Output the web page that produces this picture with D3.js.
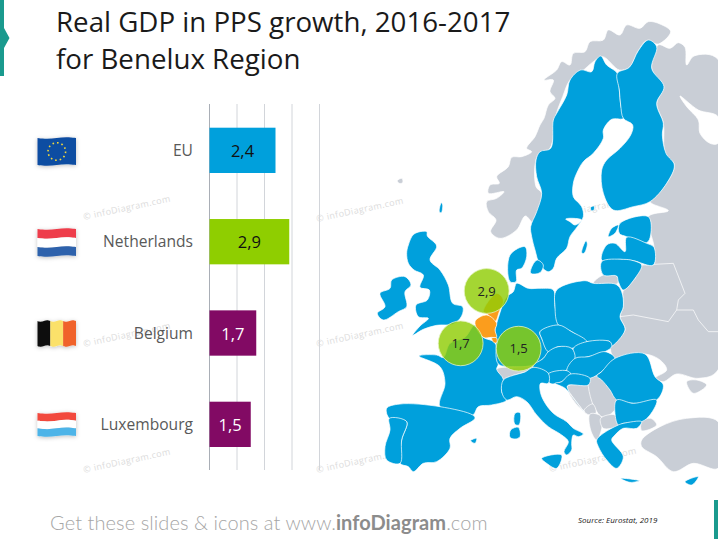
<!DOCTYPE html>
<html>
<head>
<meta charset="utf-8">
<script src="https://cdn.jsdelivr.net/npm/d3@7"></script>
<style>
  html, body { margin: 0; padding: 0; background: #fff; }
  svg { display: block; }
</style>
</head>
<body>
<div id="chart"></div>
<script>
// chart data
const categories = ["EU", "Netherlands", "Belgium", "Luxembourg"];
const growth = [2.4, 2.9, 1.7, 1.5];
const gridTicks = [0, 1, 2, 3, 4];
const bubbleCountries = ["Netherlands", "Belgium", "Luxembourg"];

// map outlines. north* are in one crop frame, south* in another
const northGrey = [
  // norway
  [[480,655],[452,635],[468,600],[445,575],[440,545],[470,535],[492,515],[445,520],[450,495],[478,490],[470,470],[505,440],[515,412],[545,410],[575,395],[560,385],[585,350],[600,315],[612,295],[625,255],[645,235],[630,215],[640,180],[612,180],[650,150],[665,125],[690,135],[700,100],[735,95],[750,65],[790,60],[805,30],[840,45],[860,15],[900,25],[925,5],[960,12],[992,35],[955,72],[920,62],[895,92],[868,142],[838,150],[788,110],[760,125],[725,155],[690,180],[668,230],[648,285],[630,385],[592,410],[588,500],[605,520],[582,610],[556,588],[530,630]],
  // russia, belarus, ukraine
  [[955,75],[990,85],[1015,68],[1035,82],[1040,135],[1062,108],[1134,118],[1134,1050],[1075,1075],[1010,1062],[970,1085],[945,1075],[980,1050],[960,1020],[915,1002],[825,1015],[812,980],[855,930],[840,890],[850,860],[850,810],[885,775],[905,735],[940,735],[942,680],[925,590],[985,572],[930,545],[965,510],[1003,435],[975,400],[970,310],[950,250],[970,200],[935,145]],
  // faroe
  [[172,482],[186,475],[188,488],[178,490]]
];
const northBlue = [
  // sweden
  [[782,108],[800,135],[832,160],[838,210],[842,255],[850,295],[815,298],[790,330],[790,355],[760,400],[730,425],[710,460],[700,490],[700,530],[725,560],[730,590],[712,620],[690,650],[680,685],[650,715],[640,745],[625,755],[600,735],[585,690],[575,650],[572,620],[590,575],[605,520],[590,470],[588,420],[600,395],[632,385],[640,300],[650,280],[680,225],[690,180],[722,150],[755,155],[765,125]],
  // finland
  [[925,60],[950,80],[935,145],[972,200],[950,250],[970,310],[967,345],[978,400],[1003,435],[980,490],[930,545],[880,560],[820,570],[790,520],[785,450],[800,420],[840,385],[872,345],[878,315],[850,295],[842,255],[838,210],[832,160],[868,142],[895,92]],
  // estonia
  [[840,610],[925,590],[932,645],[920,668],[860,650],[838,640]],
  // latvia
  [[785,720],[800,675],[825,670],[855,695],[860,652],[920,670],[942,682],[940,735],[880,722],[840,718]],
  // islands
  [[725,698],[738,662],[742,672],[732,700]],
  [[805,650],[815,625],[835,615],[825,640]],
  [[298,575],[304,548],[308,555],[304,578]],
  [[752,562],[762,558],[762,570],[754,572]]
];
const northLakes = [
  [[1020,228],[1075,270],[1134,290],[1134,370],[1110,370],[1080,340],[1075,300],[1040,260]],
  [[677,597],[700,595],[725,600],[705,615],[690,605]]
];
const southGrey = [
  // switzerland
  [[470,358],[530,350],[578,345],[580,352],[555,366],[520,376],[490,388]],
  // bosnia
  [[682,410],[745,405],[758,462],[732,482]],
  // serbia
  [[745,382],[770,378],[815,420],[830,470],[790,502],[762,470],[745,410]],
  // montenegro, kosovo
  [[732,482],[758,462],[768,488],[748,495]],
  // albania
  [[750,492],[782,498],[786,530],[770,570],[752,540]],
  // macedonia
  [[782,505],[825,495],[835,525],[790,535]],
  // kaliningrad
  [[760,100],[790,75],[830,78],[835,95],[828,103]],
  // crimea
  [[1040,395],[1070,390],[1100,405],[1060,430]],
  // turkey
  [[905,570],[960,530],[1040,505],[1134,515],[1134,655],[1060,640],[1000,665],[950,620],[905,590]],
  [[905,515],[932,505],[950,525],[905,542]]
];
const southBlue = [
  // ireland
  [[120,130],[150,115],[155,90],[195,80],[213,105],[195,125],[200,170],[175,185],[130,210],[112,190],[135,170]],
  // great britain
  [[222,-48],[260,-55],[262,-42],[290,-12],[270,30],[300,60],[325,105],[338,160],[368,170],[365,198],[340,222],[290,226],[250,238],[218,256],[240,228],[265,205],[235,200],[228,165],[262,150],[268,120],[240,112],[250,75],[222,60],[205,40],[200,10],[205,-15]],
  // france
  [[237,318],[290,315],[310,322],[330,280],[375,262],[405,225],[430,262],[465,278],[475,342],[470,358],[490,388],[485,425],[500,450],[455,465],[415,470],[398,495],[300,470],[315,400],[300,350]],
  // spain
  [[140,475],[180,462],[300,470],[398,495],[405,505],[360,535],[330,565],[330,595],[290,635],[250,640],[220,665],[205,650],[180,640],[185,570],[200,515],[148,505]],
  // portugal
  [[148,505],[200,515],[185,570],[180,640],[140,630],[135,590],[150,540]],
  // germany
  [[520,125],[530,100],[565,115],[600,115],[640,120],[645,170],[655,225],[600,245],[605,265],[625,305],[610,325],[580,345],[530,350],[475,342],[468,280],[465,240],[470,220],[500,140]],
  // poland
  [[650,120],[735,92],[760,100],[828,103],[845,125],[850,170],[840,200],[855,240],[812,290],[810,275],[740,275],[695,245],[655,225],[645,170]],
  // czechia
  [[600,245],[655,225],[695,245],[740,275],[695,295],[655,290],[625,305],[605,265]],
  // slovakia
  [[700,295],[740,275],[810,275],[815,290],[795,305],[745,320],[705,325]],
  // austria
  [[580,345],[610,325],[625,305],[655,290],[695,295],[705,325],[680,360],[625,370],[580,352]],
  // hungary
  [[705,325],[745,320],[795,305],[825,325],[785,365],[750,385],[695,385],[680,362]],
  // slovenia
  [[625,372],[680,362],[692,372],[665,395],[630,400]],
  // croatia
  [[665,395],[692,372],[750,385],[745,405],[682,408],[732,485],[675,415],[645,400]],
  // romania
  [[825,325],[915,312],[945,380],[970,405],[950,450],[880,460],[830,450],[810,420],[785,390],[770,378],[785,365]],
  // bulgaria
  [[830,450],[880,460],[950,450],[930,495],[905,515],[850,520],[835,525],[825,490]],
  // greece
  [[770,570],[790,550],[835,525],[850,520],[905,515],[890,535],[850,535],[825,555],[815,570],[850,620],[830,655],[800,630],[775,590]],
  // italy
  [[490,390],[520,376],[555,366],[580,352],[625,370],[625,400],[602,400],[600,420],[610,450],[640,490],[680,515],[700,535],[730,552],[715,560],[700,555],[695,580],[695,600],[680,615],[672,605],[685,575],[665,555],[625,530],[590,495],[560,455],[530,440],[500,450],[485,425]],
  // sicily, sardinia, corsica
  [[605,625],[665,615],[650,655],[620,640]],
  [[512,540],[535,532],[540,560],[525,567],[510,562]],
  [[525,490],[540,488],[537,525],[524,522]],
  // crete, cyprus, mallorca
  [[842,685],[898,692],[870,697]],
  [[1035,695],[1075,680],[1055,705]],
  [[392,572],[410,565],[405,580]],
  // denmark
  [[510,15],[555,-10],[560,20],[545,55],[530,60],[528,95],[510,95]],
  [[578,45],[592,30],[610,45],[600,68],[572,70]],
  // lithuania
  [[785,35],[850,28],[880,32],[905,45],[885,85],[850,120],[835,95],[830,78],[790,75]]
];
const southOrange = [
  // netherlands
  [[430,185],[470,130],[490,150],[478,185],[465,215],[445,195]],
  // belgium
  [[405,215],[440,195],[470,220],[465,240],[470,262],[455,262],[430,262]],
  // luxembourg
  [[455,264],[470,264],[470,278],[462,278]]
];
const greyBorders = [
  [[840,200],[880,195],[985,215],[1010,180],[1060,180],[1075,210],[1105,245],[1134,245]],
  [[905,45],[1000,40],[1035,130],[1015,150],[1010,180]]
];
// bubble centres on the map, same frame as south*
const bubbleCentres = [[440,123],[362,280],[536,296]];

const width = 718, height = 539;
const teal = "#1a9a8e";
const barColor = { EU: "#00a0dc", Netherlands: "#8fce00", Belgium: "#820a64", Luxembourg: "#820a64" };
const labelColor = { EU: "#111", Netherlands: "#111", Belgium: "#fff", Luxembourg: "#fff" };
const fmt = v => d3.format(".1f")(v).replace(".", ",");
const font = "'Open Sans', sans-serif";

const svg = d3.select("#chart").append("svg")
  .attr("width", width)
  .attr("height", height)
  .attr("viewBox", [0, 0, width, height]);

const defs = svg.append("defs");
defs.append("filter").attr("id", "soft")
  .attr("x", "-20%").attr("y", "-20%").attr("width", "140%").attr("height", "140%")
  .append("feDropShadow")
  .attr("dx", 0).attr("dy", 1).attr("stdDeviation", 2)
  .attr("flood-color", "#000").attr("flood-opacity", 0.25);

// teal marks on slide edges
svg.append("path")
  .attr("d", "M0,0H4V28L9.5,38L4,48V76H0Z")
  .attr("fill", teal);
svg.append("rect")
  .attr("x", 714).attr("y", 500).attr("width", 4).attr("height", 39)
  .attr("fill", teal);

// title
const title = svg.append("text")
  .attr("font-family", font)
  .attr("font-size", 27.7)
  .attr("fill", "#1a1a1a");
title.append("tspan").attr("x", 56).attr("y", 32).text("Real GDP in PPS growth, 2016-2017");
title.append("tspan").attr("x", 56).attr("y", 69).text("for Benelux Region");

// watermark
const marks = [[84,220],[317,222],[550,220],[84,347],[317,347],[84,473],[317,473],[550,472]];
svg.append("g").selectAll("text")
  .data(marks)
  .join("text")
  .attr("transform", d => `translate(${d[0]},${d[1]}) rotate(-12)`)
  .attr("font-family", font)
  .attr("font-size", 9)
  .attr("letter-spacing", 0.4)
  .attr("fill", "#dcdcdc")
  .text("© infoDiagram.com");

// bars
const x = d3.scaleLinear().domain([0, 4]).range([209.5, 319.5]);
const y = d3.scaleBand().domain(categories).range([127.7, 447]).paddingInner(0.504);

svg.append("g").selectAll("line")
  .data(gridTicks)
  .join("line")
  .attr("x1", d => x(d)).attr("x2", d => x(d))
  .attr("y1", 104).attr("y2", 470)
  .attr("stroke", d => d === 0 ? "#a9aeb6" : "#d2d5da")
  .attr("stroke-width", 1);

const rows = svg.append("g").selectAll("g")
  .data(categories)
  .join("g");

rows.append("rect")
  .attr("x", x(0))
  .attr("y", d => y(d))
  .attr("width", (d, i) => x(growth[i]) - x(0))
  .attr("height", y.bandwidth())
  .attr("fill", d => barColor[d]);

rows.append("text")
  .attr("x", (d, i) => (x(growth[i]) + x(0)) / 2)
  .attr("y", d => y(d) + y.bandwidth() / 2 + 1)
  .attr("dy", "0.35em")
  .attr("text-anchor", "middle")
  .attr("font-family", font)
  .attr("font-size", 16.5)
  .attr("fill", d => labelColor[d])
  .text((d, i) => fmt(growth[i]));

rows.append("text")
  .attr("x", 193)
  .attr("y", d => y(d) + y.bandwidth() / 2 + 1)
  .attr("dy", "0.3em")
  .attr("text-anchor", "end")
  .attr("font-family", font)
  .attr("font-size", 15.6)
  .attr("fill", "#595959")
  .text(d => d);

// flags
function wavyBand(x0, x1, y0, y1) {
  // one band with a gentle wave along the top and bottom edge
  const top = d3.line().curve(d3.curveBasis);
  const w = x1 - x0;
  const wave = [0, 1.2, 0, -1.2, 0];
  const upper = wave.map((a, i) => [x0 + w * i / 4, y0 + a]);
  const lower = wave.map((a, i) => [x0 + w * i / 4, y1 + a]).reverse();
  return top(upper) + "L" + top(lower).slice(1) + "Z";
}
function flag(g, box, colors, vertical) {
  const [x0, y0, x1, y1] = box;
  const holder = g.append("g").attr("filter", "url(#soft)");
  colors.forEach((c, i) => {
    const n = colors.length;
    if (vertical) {
      const a = x0 + (x1 - x0) * i / n, b = x0 + (x1 - x0) * (i + 1) / n;
      holder.append("path").attr("d", wavyBand(a, b, y0, y1)).attr("fill", c);
    } else {
      const a = y0 + (y1 - y0) * i / n, b = y0 + (y1 - y0) * (i + 1) / n;
      holder.append("path").attr("d", wavyBand(x0, x1, a, b)).attr("fill", c);
    }
  });
}
const flags = svg.append("g");
flag(flags, [37.5, 138, 76, 165], ["#0f4da2"], false);
flags.append("circle")
  .attr("cx", 56.8).attr("cy", 151.5).attr("r", 8.8)
  .attr("fill", "none")
  .attr("stroke", "#f2d83b").attr("stroke-width", 1.6)
  .attr("stroke-dasharray", "1.6 3");
flag(flags, [37.5, 229, 76, 256], ["#ee3e4b", "#ffffff", "#2f62ac"], false);
flag(flags, [37.5, 321, 76, 346], ["#111111", "#fbe16a", "#f0622a"], true);
flag(flags, [37.5, 413, 76, 436], ["#f2483e", "#ffffff", "#4db4e8"], false);

// map
const mapX = d3.scaleLinear().domain([0, 1134]).range([340, 718]);
const northY = d3.scaleLinear().domain([0, 750]).range([20, 270]);
const southY = d3.scaleLinear().domain([0, 750]).range([250, 500]);
const organic = d3.curveCatmullRomClosed.alpha(0.5);
const northLine = d3.line().x(d => mapX(d[0])).y(d => northY(d[1])).curve(organic);
const southLine = d3.line().x(d => mapX(d[0])).y(d => southY(d[1])).curve(organic);
const map = svg.append("g")
  .attr("stroke", "#fff")
  .attr("stroke-width", 0.7)
  .attr("stroke-linejoin", "round");

const greyFill = "#c9ced6", blueFill = "#00a0dc", orangeFill = "#fb9d1d";
map.append("g").selectAll("path").data(northGrey).join("path").attr("d", northLine).attr("fill", greyFill);
map.append("g").selectAll("path").data(southGrey).join("path").attr("d", southLine).attr("fill", greyFill);
map.append("g").selectAll("path").data(greyBorders).join("path")
  .attr("d", d3.line().x(d => mapX(d[0])).y(d => southY(d[1])))
  .attr("fill", "none");
map.append("g").selectAll("path").data(northBlue).join("path").attr("d", northLine).attr("fill", blueFill);
map.append("g").selectAll("path").data(southBlue).join("path").attr("d", southLine).attr("fill", blueFill);
map.append("g").selectAll("path").data(southOrange).join("path").attr("d", southLine).attr("fill", orangeFill);
map.append("g").selectAll("path").data(northLakes).join("path").attr("d", northLine).attr("fill", "#fff");

// bubbles on the map
const bubbles = svg.append("g").selectAll("g")
  .data(bubbleCountries)
  .join("g")
  .attr("transform", (d, i) => `translate(${mapX(bubbleCentres[i][0])},${southY(bubbleCentres[i][1])})`);
bubbles.append("circle")
  .attr("r", 22.4)
  .attr("fill", "#90cd06")
  .attr("fill-opacity", 0.82)
  .attr("stroke", "#e4f2c0")
  .attr("stroke-width", 0.8);
bubbles.append("text")
  .attr("text-anchor", "middle")
  .attr("dy", "0.35em")
  .attr("font-family", font)
  .attr("font-size", 13)
  .attr("fill", "#222")
  .text(d => fmt(growth[categories.indexOf(d)]));

// footer
const footer = svg.append("text")
  .attr("x", 50).attr("y", 529.5)
  .attr("font-family", "Lato, sans-serif")
  .attr("font-size", 20)
  .attr("font-weight", 300)
  .attr("letter-spacing", 0.08)
  .attr("fill", "#a6a6a6");
footer.append("tspan").text("Get these slides & icons at www.");
footer.append("tspan").attr("font-weight", 700).attr("fill", "#8c8c8c").text("infoDiagram");
footer.append("tspan").text(".com");

svg.append("text")
  .attr("x", 578).attr("y", 523)
  .attr("font-family", font)
  .attr("font-style", "italic")
  .attr("font-size", 8)
  .attr("fill", "#222")
  .text("Source: Eurostat, 2019");
</script>
</body>
</html>
